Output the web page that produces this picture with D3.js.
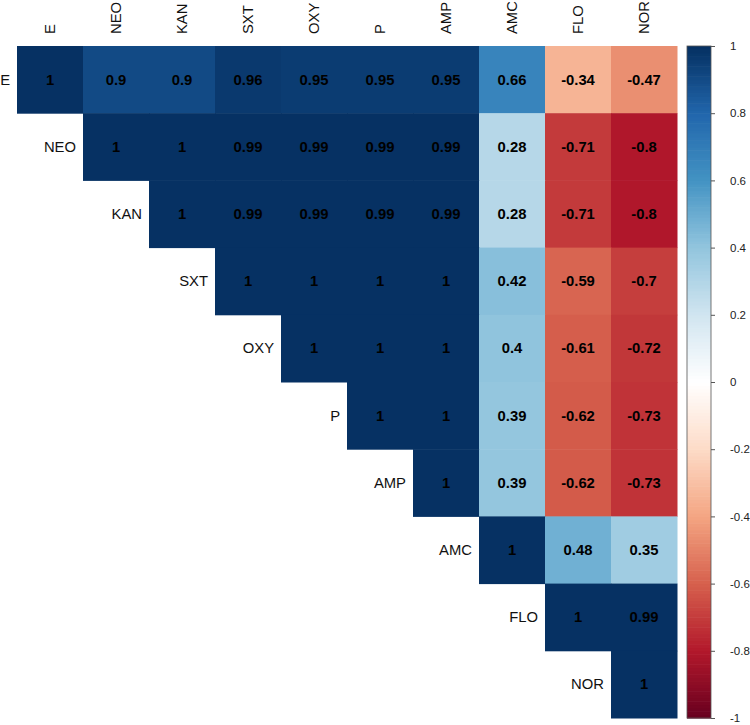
<!DOCTYPE html>
<html>
<head>
<meta charset="utf-8">
<script src="https://cdn.jsdelivr.net/npm/d3@7"></script>
<style>
html,body{margin:0;padding:0;background:#fff;}
svg{display:block;}
</style>
</head>
<body>
<svg id="chart" width="750" height="725"></svg>
<script>
const variables = ["E","NEO","KAN","SXT","OXY","P","AMP","AMC","FLO","NOR"];
// upper-triangle rows (starting at the diagonal)
const rowE   = [1, 0.9, 0.9, 0.96, 0.95, 0.95, 0.95, 0.66, -0.34, -0.47];
const rowNEO = [1, 1, 0.99, 0.99, 0.99, 0.99, 0.28, -0.71, -0.8];
const rowKAN = [1, 0.99, 0.99, 0.99, 0.99, 0.28, -0.71, -0.8];
const rowSXT = [1, 1, 1, 1, 0.42, -0.59, -0.7];
const rowOXY = [1, 1, 1, 0.4, -0.61, -0.72];
const rowP   = [1, 1, 0.39, -0.62, -0.73];
const rowAMP = [1, 0.39, -0.62, -0.73];
const rowAMC = [1, 0.48, 0.35];
const rowFLO = [1, 0.99];
const rowNOR = [1];
const rows = [rowE,rowNEO,rowKAN,rowSXT,rowOXY,rowP,rowAMP,rowAMC,rowFLO,rowNOR];
const legendTicks = [1,0.8,0.6,0.4,0.2,0,-0.2,-0.4,-0.6,-0.8,-1];
const paletteStops = ["#67001F","#B2182B","#D6604D","#F4A582","#FDDBC7","#FFFFFF","#D1E5F0","#92C5DE","#4393C3","#2166AC","#053061"];

const cells = [];
rows.forEach((r, i) => r.forEach((v, k) => cells.push({row: variables[i], col: variables[i + k], value: v})));

const svg = d3.select("#chart");
const gridLeft = 17, gridRight = 677, gridTop = 46, gridBottom = 718;

const x = d3.scaleBand().domain(variables).range([gridLeft, gridRight]);
const y = d3.scaleBand().domain(variables).range([gridTop, gridBottom]);
const ramp = d3.scaleLinear().domain(d3.range(11).map(i => -1 + i * 0.2)).range(paletteStops).interpolate(d3.interpolateRgb);
// corrplot uses 200 discrete colours
const color = v => {
  const idx = Math.min(199, Math.max(0, Math.floor((v + 1) / 2 * 200)));
  return ramp(-1 + (idx + 0.5) * 2 / 200);
};
const fmt = v => String(v);

const font = "'Liberation Sans', Arial, sans-serif";

svg.append("g").selectAll("rect").data(cells).join("rect")
  .attr("x", d => x(d.col)).attr("y", d => y(d.row))
  .attr("width", x.bandwidth() + 0.5).attr("height", y.bandwidth() + 0.5)
  .attr("fill", d => color(d.value));

svg.append("g").selectAll("text").data(cells).join("text")
  .attr("x", d => x(d.col) + x.bandwidth() / 2)
  .attr("y", d => y(d.row) + y.bandwidth() / 2)
  .attr("text-anchor", "middle").attr("dominant-baseline", "central")
  .attr("font-family", font).attr("font-weight", "bold").attr("font-size", "14.8px")
  .attr("fill", "#000")
  .text(d => fmt(d.value));

// row labels beside the diagonal
svg.append("g").selectAll("text").data(variables).join("text")
  .attr("x", d => x(d) - 7)
  .attr("y", d => y(d) + y.bandwidth() / 2)
  .attr("text-anchor", "end").attr("dominant-baseline", "central")
  .attr("font-family", font).attr("font-size", "14.8px").attr("fill", "#111")
  .text(d => d);

// column labels, rotated
svg.append("g").selectAll("text").data(variables).join("text")
  .attr("transform", d => `translate(${x(d) + x.bandwidth() / 2},${gridTop - 12}) rotate(-90)`)
  .attr("text-anchor", "start").attr("dominant-baseline", "central")
  .attr("font-family", font).attr("font-size", "14.8px").attr("fill", "#111")
  .text(d => d);

// colour legend
const legX = 687, legW = 24;
const ly = d3.scaleLinear().domain([1, -1]).range([gridTop, gridBottom]);
const nSteps = 200;
const steps = d3.range(nSteps).map(i => -1 + i * 2 / nSteps);
svg.append("g").selectAll("rect").data(steps).join("rect")
  .attr("x", legX).attr("width", legW)
  .attr("y", d => ly(d + 2 / nSteps))
  .attr("height", d => ly(d) - ly(d + 2 / nSteps) + 0.6)
  .attr("fill", d => color(d + 1 / nSteps));
svg.append("rect").attr("x", legX).attr("y", gridTop).attr("width", legW).attr("height", gridBottom - gridTop)
  .attr("fill", "none").attr("stroke", "#555").attr("stroke-width", 0.8);

const axis = d3.axisRight(ly).tickValues(legendTicks).tickSize(4).tickPadding(15).tickFormat(fmt);
const ag = svg.append("g").attr("transform", `translate(${legX + legW},0)`).call(axis);
ag.select(".domain").remove();
ag.selectAll(".tick line").attr("stroke", "#555");
ag.selectAll(".tick text").attr("font-family", font).attr("font-size", "11.5px").attr("fill", "#222");
</script>
</body>
</html>
